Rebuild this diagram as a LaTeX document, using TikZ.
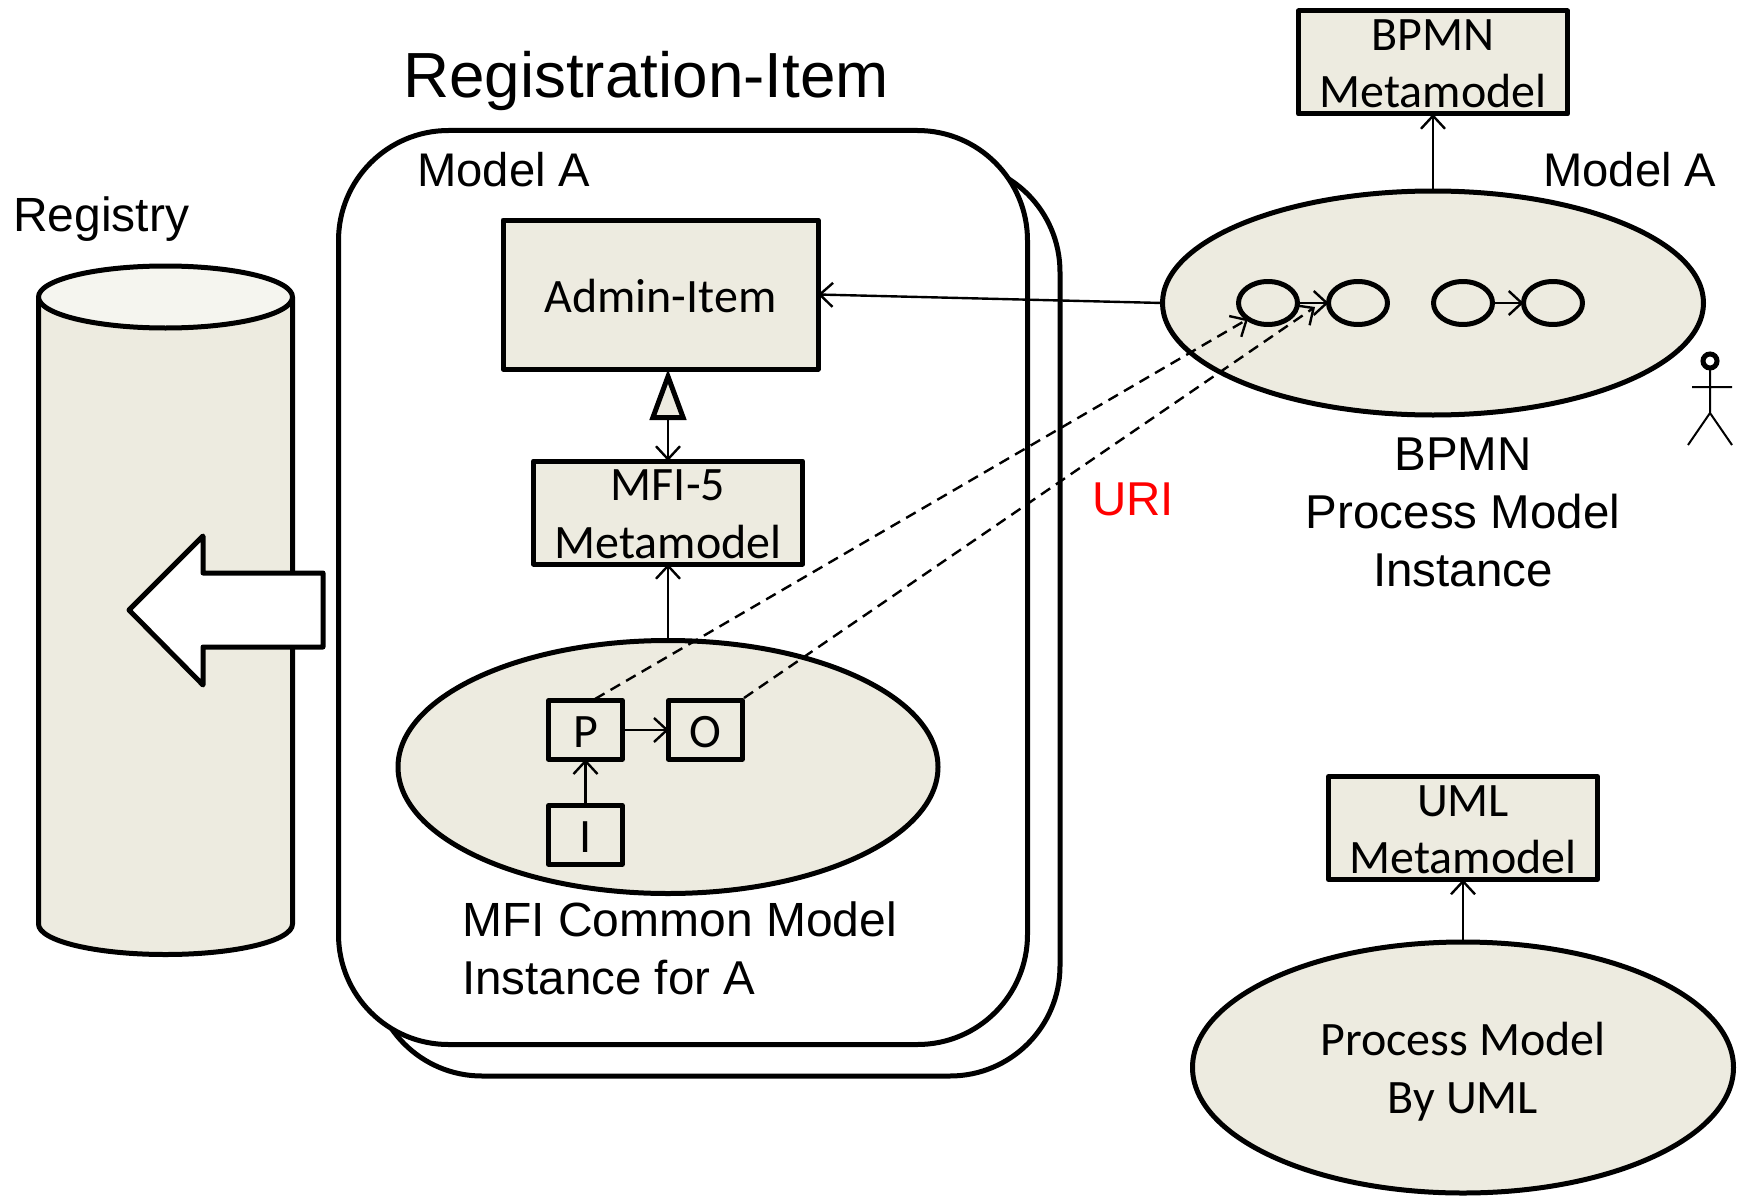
\documentclass[tikz,border=0pt]{standalone}
\usepackage{fontspec}
\setmainfont{Liberation Sans}
\newfontfamily\boxfont{Carlito}
\usetikzlibrary{arrows.meta,shapes.geometric,calc}
\definecolor{cream}{HTML}{EDEBE0}
\definecolor{creamlight}{HTML}{F5F5EF}
\tikzset{
  thickline/.style={line width=5pt,line join=round},
  liftlabel/.style={execute at begin node={\rule{0pt}{#1}}},
  twolines/.style={text height=91pt,text depth=0pt},
  boxnode/.style={draw,thickline,fill=cream,rectangle,inner sep=0pt,outer sep=0pt,align=center,font=\boxfont\fontsize{48}{57.5}\selectfont},
  smallbox/.style={boxnode,liftlabel=35pt,minimum width=73.5pt,minimum height=58.5pt},
  ell/.style={draw,thickline,fill=cream,ellipse,inner sep=0pt,outer sep=0pt,align=center,font=\boxfont\fontsize{48}{57.5}\selectfont},
  circ/.style={draw,thickline,ellipse,inner sep=0pt,outer sep=0pt,minimum width=59pt,minimum height=43pt},
  frame/.style={draw,thickline,rounded corners=110pt},
  lab/.style={inner sep=0pt,anchor=base,font=\fontsize{47.5}{58}\selectfont},
  lableft/.style={lab,anchor=base west},
  conn/.style={line width=2.4pt,-{Straight Barb[length=13pt,width=24pt,line width=2.4pt]}},
  dashconn/.style={conn,dash pattern=on 11pt off 7pt},
  actorline/.style={line width=2pt},
}
\begin{document}
\begin{tikzpicture}[x=1pt,y=-1pt]
\useasboundingbox (0,0) rectangle (1738,1196);
% cylinder
\fill[cream] (38.5,297) -- (38.5,924) arc[start angle=180,end angle=0,x radius=127,y radius=30.5] -- (292.5,297) -- cycle;
\draw[thickline] (38.5,297) -- (38.5,924) arc[start angle=180,end angle=0,x radius=127,y radius=30.5] -- (292.5,297);
\draw[thickline,fill=creamlight] (165.5,297) ellipse[x radius=127,y radius=31];
% block arrow
\draw[thickline,fill=white] (129,610) -- (203,536) -- (203,573) -- (323,573) -- (323,647) -- (203,647) -- (203,685) -- cycle;
% frames
\draw[frame,fill=white] (372,162) rectangle (1060,1076);
\draw[frame,fill=white] (338.5,130.5) rectangle (1027.5,1044.5);
% texts
\node[lab,font=\fontsize{63.8}{64}\selectfont] (title) at (646,97.5) {Registration-Item};
\node[lableft,font=\fontsize{47.2}{58}\selectfont] (modelaL) at (417,186) {Model A};
\node[lableft,font=\fontsize{47.2}{58}\selectfont] (modelaR) at (1543,186) {Model A};
\node[lableft,font=\fontsize{48}{58}\selectfont] (registry) at (13,231) {Registry};
\node[lab,align=center] (bpmnlabel) at (1463,586.5) {BPMN\\Process Model\\Instance};
\node[lableft,align=left] (mfilabel) at (462,994) {{\fontsize{48}{58}\selectfont MFI Common Model}\\Instance for A};
\node[lab,text=red] (uri) at (1133,515) {URI};
% boxes
\node[boxnode,liftlabel=36pt,minimum width=315pt,minimum height=149pt] (admin) at (660.5,294.5) {Admin-Item};
\node[boxnode,twolines,minimum width=269pt,minimum height=103pt] (mfi) at (668,512.5) {MFI-5\\Metamodel};
\node[ell,minimum width=540pt,minimum height=253pt] (mfiell) at (668,767) {};
\node[smallbox] (P) at (585.5,730) {P};
\node[smallbox] (O) at (705.5,730) {O};
\node[smallbox] (I) at (585.5,835) {I};
\node[boxnode,twolines,minimum width=269pt,minimum height=103pt] (bpmnmeta) at (1433,62.5) {BPMN\\Metamodel};
\node[ell,minimum width=541pt,minimum height=224pt] (bpmn) at (1433,303) {};
\node[circ] (c1) at (1268,303) {};
\node[circ] (c2) at (1358,303) {};
\node[circ] (c3) at (1463,303) {};
\node[circ] (c4) at (1553,303) {};
\node[boxnode,twolines,minimum width=269pt,minimum height=103pt] (umlmeta) at (1463,828) {UML\\Metamodel};
\node[ell,twolines,minimum width=541pt,minimum height=251pt] (uml) at (1463,1067.5) {Process Model\\By UML};
% actor
\draw[line width=5pt] (1710,361) circle[radius=7pt];
\coordinate (actorneck) at (1710,369);
\coordinate (actorhip) at (1710,413);
\draw[actorline] (actorneck) -- (actorhip) (1692,387) -- (1732,387) (1688,445) -- (actorhip) -- (1732,445);
% connectors
\draw[conn] (bpmn.west) -- (admin.east);
\draw[conn] (bpmn.north) -- (bpmnmeta.south);
\draw[conn] (mfiell.north) -- (mfi.south);
\draw[conn] (uml.north) -- (umlmeta.south);
\draw[line width=2.4pt,{Triangle[open,fill=cream,length=51pt,width=36pt,line width=5pt]}-{Straight Barb[length=13pt,width=24pt,line width=2.4pt]}] (admin.south -| mfi.north) -- (mfi.north);
\draw[conn] (P.east) -- (O.west);
\draw[conn] (I.north) -- (P.south);
\draw[conn] (c1.east) -- (c2.west);
\draw[conn] (c3.east) -- (c4.west);
\coordinate (pstart) at (595,699);
\coordinate (ostart) at (744,698);
\coordinate (tipa) at (1248,319);
\coordinate (tipb) at (1315,307);
\draw[dashconn] (pstart) -- (tipa);
\draw[dashconn] (ostart) -- (tipb);
\end{tikzpicture}
\end{document}
